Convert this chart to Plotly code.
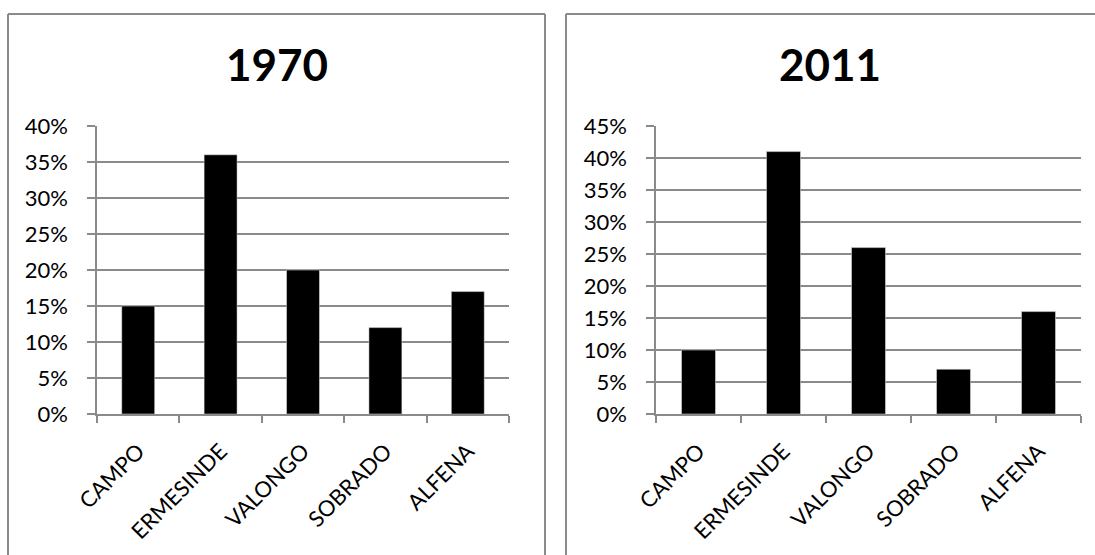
import plotly.graph_objects as go

# Share of population by parish, two census years
parishes = ["CAMPO", "ERMESINDE", "VALONGO", "SOBRADO", "ALFENA"]
share_1970 = [0.15, 0.36, 0.20, 0.12, 0.17]
share_2011 = [0.10, 0.41, 0.26, 0.07, 0.16]
titles = ["1970", "2011"]

W, H = 1095, 555
FONT = "Lato"
GRID = "#8a8a8a"


def px_x(v):
    return v / W


def px_y(v):
    return 1 - v / H


fig = go.Figure()

fig.add_trace(go.Bar(x=parishes, y=share_1970, marker_color="black",
                     xaxis="x", yaxis="y", width=0.4, showlegend=False))
fig.add_trace(go.Bar(x=parishes, y=share_2011, marker_color="black",
                     xaxis="x2", yaxis="y2", width=0.4, showlegend=False))

axis_common = dict(
    showline=True, linecolor=GRID, linewidth=1.5,
    ticks="outside", tickcolor=GRID, tickwidth=1.5,
    automargin=False,
)
xaxis_common = dict(axis_common, type="category", tickangle=-45,
                    tickson="boundaries", ticklen=7, showgrid=False,
                    tickfont=dict(family=FONT, size=22, color="black"),
                    ticklabelstandoff=14, fixedrange=True)
yaxis_common = dict(axis_common, tickformat=".0%", dtick=0.05, ticklen=8,
                    showgrid=True, gridcolor=GRID, gridwidth=1.5,
                    tickfont=dict(family=FONT, size=22, color="black"),
                    ticklabelstandoff=15, zeroline=False, fixedrange=True)

y_dom = [px_y(414), px_y(126)]

fig.update_layout(
    width=W, height=H,
    margin=dict(l=0, r=0, t=0, b=0, pad=0, autoexpand=False),
    paper_bgcolor="white", plot_bgcolor="white",
    bargap=0.6,
    xaxis=dict(xaxis_common, domain=[px_x(97), px_x(509)], anchor="y"),
    yaxis=dict(yaxis_common, domain=y_dom, range=[0, 0.40], anchor="x"),
    xaxis2=dict(xaxis_common, domain=[px_x(656), px_x(1081)], anchor="y2"),
    yaxis2=dict(yaxis_common, domain=y_dom, range=[0, 0.45], anchor="x2"),
)

# Chart titles
for title, cx in zip(titles, [277, 830]):
    fig.add_annotation(text="<b>%s</b>" % title, x=px_x(cx), y=px_y(64),
                       xref="paper", yref="paper", showarrow=False,
                       xanchor="center", yanchor="middle",
                       font=dict(family=FONT, size=44, color="black"))

# Chart-area frames (top and sides)
frame = dict(type="line", xref="paper", yref="paper",
             line=dict(color=GRID, width=2))
for x0, x1 in [(8, 545), (566, 1100)]:
    fig.add_shape(frame, x0=px_x(x0), x1=px_x(x1), y0=px_y(14), y1=px_y(14))
    fig.add_shape(frame, x0=px_x(x0), x1=px_x(x0), y0=px_y(14), y1=px_y(560))
    fig.add_shape(frame, x0=px_x(x1), x1=px_x(x1), y0=px_y(14), y1=px_y(560))

fig.write_html("out.html")
